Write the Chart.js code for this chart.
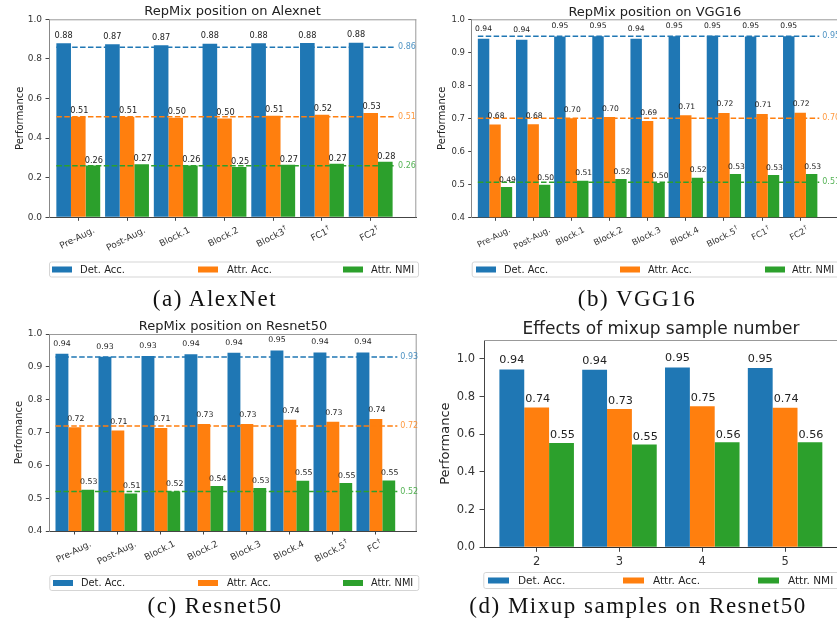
<!DOCTYPE html>
<html>
<head>
<meta charset="utf-8">
<script src="https://cdn.jsdelivr.net/npm/chart.js@4/dist/chart.umd.min.js"></script>
<style>
html, body { margin: 0; padding: 0; background: #fff; }
body { width: 837px; height: 631px; position: relative; overflow: hidden; }
.panel { position: absolute; overflow: hidden; }
.cap { position: absolute; font-family: "Liberation Serif", serif; font-size: 23px; line-height: 23px;
       letter-spacing: 1.5px; color: #111; text-align: center; white-space: nowrap; }
</style>
</head>
<body>
<div class="panel" style="left:0;top:0;width:420px;height:290px"><canvas id="ca"></canvas></div>
<div class="panel" style="left:420px;top:0;width:417px;height:290px"><canvas id="cb"></canvas></div>
<div class="panel" style="left:0;top:310px;width:420px;height:284px"><canvas id="cc"></canvas></div>
<div class="panel" style="left:420px;top:310px;width:417px;height:284px"><canvas id="cd"></canvas></div>
<div class="cap" style="left:15px;width:400px;top:287px">(a) AlexNet</div>
<div class="cap" style="left:437px;width:400px;top:287px">(b) VGG16</div>
<div class="cap" style="left:15px;width:400px;top:594px">(c) Resnet50</div>
<div class="cap" style="left:438px;width:400px;top:594px">(d) Mixup samples on Resnet50</div>
<script>
// ---------------- data ----------------
const seriesNames = ['Det. Acc.', 'Attr. Acc.', 'Attr. NMI'];
const seriesColors = ['#1f77b4', '#ff7f0e', '#2ca02c'];
const meanLabelColors = ['rgba(31,119,180,0.8)', 'rgba(255,127,14,0.8)', 'rgba(44,160,44,0.8)'];

const alexTitle = 'RepMix position on Alexnet';
const alexCategories = ['Pre-Aug.', 'Post-Aug.', 'Block.1', 'Block.2', 'Block3\u2020', 'FC1\u2020', 'FC2\u2020'];
const alexDet  = [0.879, 0.874, 0.869, 0.876, 0.879, 0.880, 0.882];
const alexAttr = [0.508, 0.508, 0.503, 0.499, 0.513, 0.518, 0.527];
const alexNmi  = [0.261, 0.268, 0.262, 0.254, 0.266, 0.271, 0.281];
const alexMeans = [0.859, 0.508, 0.260];
const alexYTicks = [0.0, 0.2, 0.4, 0.6, 0.8, 1.0];

const vggTitle = 'RepMix position on VGG16';
const vggCategories = ['Pre-Aug.', 'Post-Aug.', 'Block.1', 'Block.2', 'Block.3', 'Block.4', 'Block.5\u2020', 'FC1\u2020', 'FC2\u2020'];
const vggDet  = [0.941, 0.938, 0.948, 0.949, 0.941, 0.949, 0.950, 0.948, 0.949];
const vggAttr = [0.681, 0.682, 0.700, 0.704, 0.692, 0.709, 0.716, 0.713, 0.717];
const vggNmi  = [0.492, 0.499, 0.511, 0.516, 0.504, 0.520, 0.531, 0.528, 0.531];
const vggMeans = [0.949, 0.700, 0.506];
const vggYTicks = [0.4, 0.5, 0.6, 0.7, 0.8, 0.9, 1.0];

const resTitle = 'RepMix position on Resnet50';
const resCategories = ['Pre-Aug.', 'Post-Aug.', 'Block.1', 'Block.2', 'Block.3', 'Block.4', 'Block.5\u2020', 'FC\u2020'];
const resDet  = [0.940, 0.931, 0.933, 0.938, 0.943, 0.950, 0.944, 0.944];
const resAttr = [0.716, 0.706, 0.714, 0.726, 0.726, 0.739, 0.733, 0.741];
const resNmi  = [0.526, 0.514, 0.520, 0.537, 0.531, 0.553, 0.546, 0.554];
const resMeans = [0.930, 0.720, 0.520];
const resYTicks = [0.4, 0.5, 0.6, 0.7, 0.8, 0.9, 1.0];

const mixTitle = 'Effects of mixup sample number';
const mixCategories = ['2', '3', '4', '5'];
const mixDet  = [0.944, 0.942, 0.954, 0.951];
const mixAttr = [0.742, 0.734, 0.748, 0.740];
const mixNmi  = [0.554, 0.546, 0.557, 0.557];
const mixYTicks = [0.0, 0.2, 0.4, 0.6, 0.8, 1.0];

// ---------------- drawing ----------------
const FONT = '"DejaVu Sans", sans-serif';

// draw a label whose trailing dagger is a small superscript, centred on (0,0)
function drawLabel(ctx, lab, fs) {
  let main = lab, sup = '';
  if (lab.endsWith('\u2020')) { main = lab.slice(0, -1); sup = '\u2020'; }
  ctx.font = fs + 'px ' + FONT;
  const wm = ctx.measureText(main).width;
  ctx.font = (fs * 0.7) + 'px ' + FONT;
  const ws = sup ? ctx.measureText(sup).width + 0.5 : 0;
  const total = wm + ws;
  ctx.textAlign = 'left'; ctx.textBaseline = 'middle';
  ctx.font = fs + 'px ' + FONT;
  ctx.fillText(main, -total / 2, 0);
  if (sup) {
    ctx.font = (fs * 0.7) + 'px ' + FONT;
    ctx.fillText(sup, -total / 2 + wm + 0.5, -fs * 0.38);
  }
  return total;
}
function labelWidth(ctx, lab, fs) {
  let main = lab, sup = '';
  if (lab.endsWith('\u2020')) { main = lab.slice(0, -1); sup = '\u2020'; }
  ctx.font = fs + 'px ' + FONT;
  const wm = ctx.measureText(main).width;
  ctx.font = (fs * 0.7) + 'px ' + FONT;
  return wm + (sup ? ctx.measureText(sup).width + 0.5 : 0);
}

function buildPanel(p) {
  const canvas = document.getElementById(p.canvasId);
  canvas.width = p.width; canvas.height = p.height;
  canvas.style.width = p.width + 'px'; canvas.style.height = p.height + 'px';
  const n = p.categories.length;
  const datasets = [];
  p.series.forEach((arr, s) => {
    datasets.push({
      type: 'bar', label: seriesNames[s],
      data: arr.map((v, i) => ({ x: i, y: v })),
      backgroundColor: seriesColors[s], borderWidth: 0,
      categoryPercentage: 0.9, barPercentage: 1.0, order: 1
    });
  });
  (p.means || []).forEach((m, s) => {
    datasets.push({
      type: 'line', label: 'mean ' + seriesNames[s],
      data: [{ x: -0.45, y: m }, { x: n - 0.5, y: m }],
      borderColor: seriesColors[s], borderWidth: 1.5, borderDash: [5.5, 2.4],
      pointRadius: 0, pointHoverRadius: 0, fill: false, order: 0
    });
  });

  const decor = {
    id: 'decor' + p.canvasId,
    afterDraw(chart) {
      const { ctx, chartArea: a, scales } = chart;
      const xs = scales.x, ys = scales.y;
      ctx.save();
      // top & right spines
      ctx.strokeStyle = p.topSpine; ctx.lineWidth = 1;
      ctx.beginPath();
      ctx.moveTo(a.left, a.top + 0.5); ctx.lineTo(a.right, a.top + 0.5);
      ctx.moveTo(a.right - 0.5, a.top); ctx.lineTo(a.right - 0.5, a.bottom);
      ctx.stroke();

      // x tick labels
      ctx.fillStyle = '#333';
      p.categories.forEach((lab, i) => {
        const px = xs.getPixelForValue(i);
        if (p.rotation) {
          const th = p.rotation * Math.PI / 180;
          const w = labelWidth(ctx, lab, p.xFont);
          const bh = w * Math.sin(th) + p.xFont * Math.cos(th);
          ctx.save();
          ctx.translate(px - 1, a.bottom + p.xPad + bh / 2);
          ctx.rotate(-th);
          drawLabel(ctx, lab, p.xFont);
          ctx.restore();
        } else {
          ctx.font = p.xFont + 'px ' + FONT;
          ctx.textAlign = 'center'; ctx.textBaseline = 'alphabetic';
          ctx.fillText(lab, px, a.bottom + p.xPad);
        }
      });

      // value labels
      ctx.fillStyle = '#222';
      ctx.font = p.valFont + 'px ' + FONT;
      ctx.textAlign = 'center'; ctx.textBaseline = 'bottom';
      p.series.forEach((arr, s) => {
        const meta = chart.getDatasetMeta(s);
        arr.forEach((v, i) => {
          const bar = meta.data[i];
          ctx.fillText(v.toFixed(2), bar.x + (s ? 1 : 0), ys.getPixelForValue(v * 1.02));
        });
      });

      // mean labels
      ctx.font = p.meanFont + 'px ' + FONT;
      ctx.textAlign = 'left'; ctx.textBaseline = 'middle';
      (p.means || []).forEach((m, s) => {
        ctx.fillStyle = meanLabelColors[s];
        ctx.fillText(m.toFixed(2), xs.getPixelForValue(n - 0.5) + 3, ys.getPixelForValue(m));
      });

      // title
      ctx.fillStyle = '#222';
      ctx.font = p.titleFont + 'px ' + FONT;
      ctx.textAlign = 'center'; ctx.textBaseline = 'alphabetic';
      ctx.fillText(p.title, (a.left + a.right) / 2, p.titleY);

      // y label
      ctx.save();
      ctx.translate(p.ylabelX, (a.top + a.bottom) / 2);
      ctx.rotate(-Math.PI / 2);
      ctx.font = p.ylabelFont + 'px ' + FONT;
      ctx.textAlign = 'center'; ctx.textBaseline = 'middle';
      ctx.fillText('Performance', 0, 0);
      ctx.restore();

      // legend
      const L = p.legend;
      ctx.strokeStyle = '#d5d5d5'; ctx.lineWidth = 1;
      ctx.fillStyle = '#fff';
      ctx.beginPath();
      if (ctx.roundRect) ctx.roundRect(L.x + 0.5, L.y + 0.5, L.w, L.h, 2); else ctx.rect(L.x + 0.5, L.y + 0.5, L.w, L.h);
      ctx.fill(); ctx.stroke();
      ctx.font = L.font + 'px ' + FONT;
      ctx.textAlign = 'left'; ctx.textBaseline = 'middle';
      const cy = L.y + L.h / 2 + 0.5;
      L.items.forEach((it, s) => {
        ctx.fillStyle = seriesColors[s];
        ctx.fillRect(it.sx, cy - L.sh / 2, L.sw, L.sh);
        ctx.fillStyle = '#222';
        ctx.fillText(seriesNames[s], it.tx, cy + 0.5);
      });
      ctx.restore();
    }
  };

  new Chart(canvas, {
    type: 'bar',
    data: { datasets },
    options: {
      responsive: false, animation: false, devicePixelRatio: 1,
      layout: { autoPadding: false,
        padding: { left: 0, top: p.plot.top, right: p.width - p.plot.right, bottom: 0 } },
      plugins: { legend: { display: false }, title: { display: false }, tooltip: { enabled: false } },
      events: [],
      scales: {
        x: {
          type: 'linear', min: p.xMin, max: p.xMax, offset: false,
          afterBuildTicks: s => { s.ticks = p.categories.map((c, i) => ({ value: i })); },
          afterFit: s => { s.height = p.height - p.plot.bottom; },
          ticks: { display: false },
          grid: { display: true, offset: false, drawOnChartArea: false, drawTicks: true,
                  tickLength: p.tickLen, color: '#444', lineWidth: 1 },
          border: { display: true, color: p.bottomSpine, width: 1 }
        },
        y: {
          type: 'linear', min: p.yMin, max: p.yMax,
          afterBuildTicks: s => { s.ticks = p.yTicks.map(v => ({ value: v })); },
          afterFit: s => { s.width = p.plot.left; },
          ticks: { autoSkip: false, color: '#333', padding: p.tickPad,
                   font: { family: 'DejaVu Sans', size: p.yFont },
                   callback: v => Number(v).toFixed(1) },
          grid: { display: true, drawOnChartArea: false, drawTicks: true,
                  tickLength: p.tickLen, color: '#444', lineWidth: 1 },
          border: { display: true, color: p.leftSpine, width: 1 }
        }
      }
    },
    plugins: [decor]
  });
}

buildPanel({
  canvasId: 'ca', width: 420, height: 290,
  plot: { left: 49, right: 416.3, top: 19.3, bottom: 217.3 },
  categories: alexCategories, series: [alexDet, alexAttr, alexNmi], means: alexMeans,
  xMin: -0.601, xMax: 6.936, yMin: 0, yMax: 1.0, yTicks: alexYTicks,
  yFont: 9, xFont: 9, valFont: 8.2, meanFont: 8, titleFont: 13, ylabelFont: 10,
  title: alexTitle, titleY: 15, ylabelX: 20, rotation: 27, xPad: 8.5, tickLen: 3.5, tickPad: 3.5,
  leftSpine: '#888', bottomSpine: '#444', topSpine: '#999',
  legend: { x: 49, y: 261.5, w: 369, h: 15, font: 10, sw: 20, sh: 6,
            items: [{ sx: 52, tx: 80 }, { sx: 198, tx: 227 }, { sx: 343, tx: 371 }] }
});

buildPanel({
  canvasId: 'cb', width: 420, height: 290,
  plot: { left: 51.7, right: 418, top: 19.3, bottom: 217.3 },
  categories: vggCategories, series: [vggDet, vggAttr, vggNmi], means: vggMeans,
  xMin: -0.611, xMax: 8.991, yMin: 0.4, yMax: 1.0, yTicks: vggYTicks,
  yFont: 8.5, xFont: 8.5, valFont: 7.6, meanFont: 8, titleFont: 13, ylabelFont: 10,
  title: vggTitle, titleY: 15.7, ylabelX: 22, rotation: 27, xPad: 8.5, tickLen: 3.5, tickPad: 3.2,
  leftSpine: '#888', bottomSpine: '#444', topSpine: '#999',
  legend: { x: 51.7, y: 261.5, w: 380, h: 15, font: 9.8, sw: 20, sh: 6,
            items: [{ sx: 56, tx: 84 }, { sx: 200, tx: 228 }, { sx: 345, tx: 372 }] }
});

buildPanel({
  canvasId: 'cc', width: 420, height: 284,
  plot: { left: 49.3, right: 416.7, top: 24, bottom: 221 },
  categories: resCategories, series: [resDet, resAttr, resNmi], means: resMeans,
  xMin: -0.594, xMax: 7.95, yMin: 0.4, yMax: 1.0, yTicks: resYTicks,
  yFont: 9.2, xFont: 9, valFont: 7.8, meanFont: 8, titleFont: 13, ylabelFont: 10,
  title: resTitle, titleY: 20, ylabelX: 19, rotation: 27, xPad: 8.5, tickLen: 3.5, tickPad: 3.5,
  leftSpine: '#888', bottomSpine: '#444', topSpine: '#999',
  legend: { x: 49.3, y: 265, w: 369, h: 15, font: 9.8, sw: 20, sh: 6,
            items: [{ sx: 53, tx: 81 }, { sx: 198, tx: 227 }, { sx: 343, tx: 371 }] }
});

buildPanel({
  canvasId: 'cd', width: 420, height: 284,
  plot: { left: 64, right: 418, top: 30, bottom: 237.3 },
  categories: mixCategories, series: [mixDet, mixAttr, mixNmi], means: null,
  xMin: -0.636, xMax: 3.639, yMin: 0, yMax: 1.1, yTicks: mixYTicks,
  yFont: 11.5, xFont: 11.5, valFont: 11.2, meanFont: 8, titleFont: 17, ylabelFont: 13,
  title: mixTitle, titleY: 24, ylabelX: 25.7, rotation: 0, xPad: 18, tickLen: 4.5, tickPad: 4.5,
  leftSpine: '#444', bottomSpine: '#333', topSpine: '#999',
  legend: { x: 63.3, y: 262, w: 380, h: 16, font: 10.5, sw: 21, sh: 6,
            items: [{ sx: 68, tx: 98 }, { sx: 203, tx: 233 }, { sx: 338, tx: 368 }] }
});
</script>
</body>
</html>
